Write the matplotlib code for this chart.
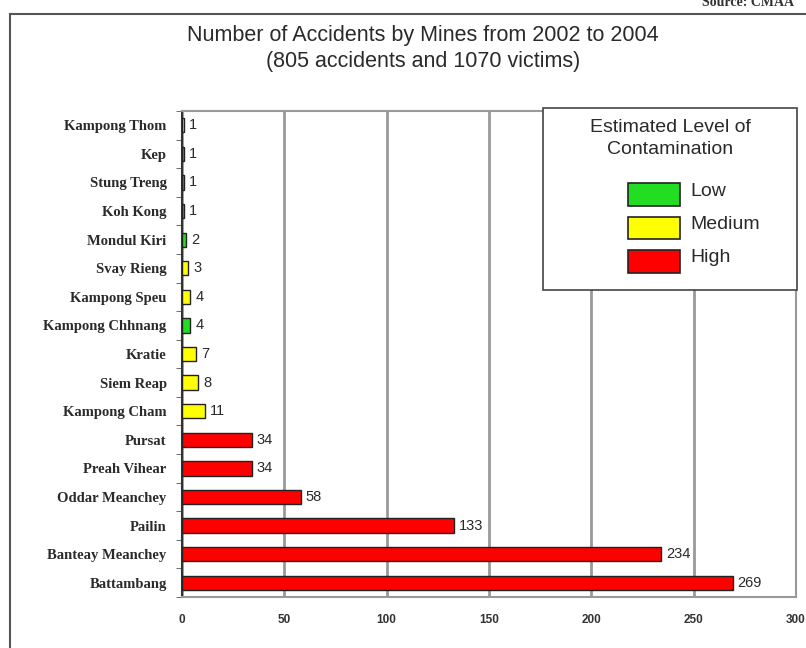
import numpy as np
import matplotlib.pyplot as plt
from matplotlib.patches import Rectangle

provinces = ['Kampong Thom', 'Kep', 'Stung Treng', 'Koh Kong', 'Mondul Kiri',
             'Svay Rieng', 'Kampong Speu', 'Kampong Chhnang', 'Kratie', 'Siem Reap',
             'Kampong Cham', 'Pursat', 'Preah Vihear', 'Oddar Meanchey', 'Pailin',
             'Banteay Meanchey', 'Battambang']
accidents = [1, 1, 1, 1, 2, 3, 4, 4, 7, 8, 11, 34, 34, 58, 133, 234, 269]
levels = ['Medium', 'Low', 'Low', 'Low', 'Low', 'Medium', 'Medium', 'Low', 'Medium',
          'Medium', 'Medium', 'High', 'High', 'High', 'High', 'High', 'High']
level_names = ['Low', 'Medium', 'High']
x_ticks = [0, 50, 100, 150, 200, 250, 300]

level_colors = {'Low': '#22dd22', 'Medium': '#ffff00', 'High': '#ff0000'}
W, H = 806, 648
txt = '#2a2a2a'


def px(x, y):
    # pixel position (from top-left) -> figure fraction
    return x / W, 1 - y / H


fig = plt.figure(figsize=(W / 100, H / 100), dpi=100)

# outer frame (left and top edges only)
fig.add_artist(plt.Line2D([10 / W, 10 / W], [0, 1 - 14 / H], color='#555555', lw=1.5))
fig.add_artist(plt.Line2D([10 / W, 1], [1 - 14 / H, 1 - 14 / H], color='#555555', lw=1.5))
fig.text(0.985, 1 - 2 / H, 'Source: CMAA', ha='right', va='center', fontsize=10,
         family='Liberation Serif', fontweight='bold', color='#333333')

fig.text(*px(423, 36), 'Number of Accidents by Mines from 2002 to 2004',
         ha='center', va='center', fontsize=15.5, family='Liberation Sans', color=txt)
fig.text(*px(423, 62), '(805 accidents and 1070 victims)',
         ha='center', va='center', fontsize=15.5, family='Liberation Sans', color=txt)

ax = fig.add_axes([182 / W, 1 - 597 / H, 614 / W, 486 / H])
y = np.arange(len(provinces))[::-1]
colors = [level_colors[l] for l in levels]
ax.barh(y, accidents, height=0.5, color=colors, edgecolor='#222222', linewidth=1, zorder=3)

for yi, v in zip(y, accidents):
    ax.text(v + 2.5, yi, str(v), va='center', ha='left', fontsize=10.5,
            family='Liberation Sans', color=txt, zorder=4)

ax.set_xlim(0, 300)
ax.set_ylim(-0.5, len(provinces) - 0.5)
ax.set_xticks(x_ticks)
ax.set_xticklabels([str(t) for t in x_ticks], family='Liberation Sans', fontsize=8.5,
                   fontweight='bold', color='#333333')
ax.set_yticks(y)
ax.set_yticklabels(provinces, family='Liberation Serif', fontsize=10.5, fontweight='bold',
                   color=txt)
ax.set_yticks(np.arange(len(provinces) + 1) - 0.5, minor=True)
ax.tick_params(axis='y', which='major', length=0, pad=11)
ax.tick_params(axis='y', which='minor', length=4, color='#555555', direction='out')
ax.tick_params(axis='x', length=0, pad=12)
ax.grid(axis='x', color='#999999', lw=2, zorder=0)

for side in ['top', 'right', 'bottom']:
    ax.spines[side].set_color('#999999')
    ax.spines[side].set_linewidth(1.5)
ax.spines['left'].set_color('#333333')
ax.spines['left'].set_linewidth(1.5)

# legend box drawn by hand
x0, y0 = px(543, 290)
x1, y1 = px(797, 108)
fig.add_artist(Rectangle((x0, y0), x1 - x0, y1 - y0, transform=fig.transFigure,
                         facecolor='white', edgecolor='#444444', lw=1.2, zorder=5))
fig.text(*px(670, 128), 'Estimated Level of', ha='center', va='center', fontsize=14,
         family='Liberation Sans', color=txt, zorder=6)
fig.text(*px(670, 149), 'Contamination', ha='center', va='center', fontsize=14,
         family='Liberation Sans', color=txt, zorder=6)
for i, name in enumerate(level_names):
    top = 183 + i * 33.5
    bx0, by0 = px(628, top + 23)
    bx1, by1 = px(680, top)
    fig.add_artist(Rectangle((bx0, by0), bx1 - bx0, by1 - by0, transform=fig.transFigure,
                             facecolor=level_colors[name], edgecolor='#222222', lw=1.2,
                             zorder=6))
    fig.text(*px(690, top + 8), name, ha='left', va='center', fontsize=14,
             family='Liberation Sans', color=txt, zorder=6)

fig.savefig('out.png', dpi=100)
